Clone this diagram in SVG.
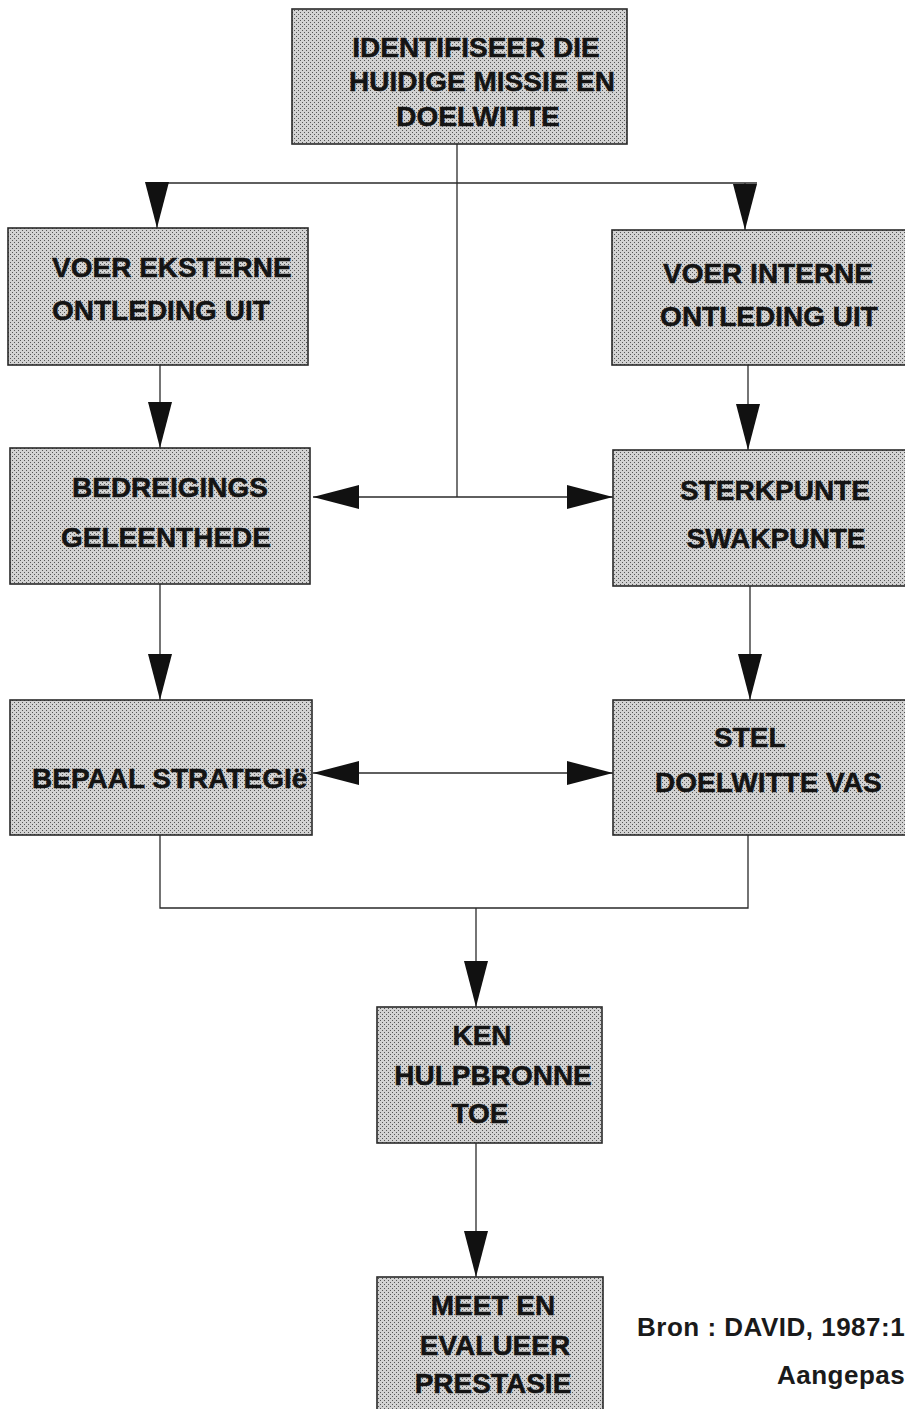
<svg xmlns="http://www.w3.org/2000/svg" width="905" height="1409" viewBox="0 0 905 1409">
  <style>
    .box { fill: url(#dots); stroke: #2a2a2a; stroke-width: 1.6; }
    .lbl { font-family: "Liberation Sans", Arial, sans-serif; font-weight: bold; font-size: 28px; fill: #141414; stroke: #141414; stroke-width: 0.5; }
    .mid { text-anchor: middle; }
    .link { fill: none; stroke: #2a2a2a; stroke-width: 1.3; }
    .arrow { marker-end: url(#ah); }
    .both { marker-start: url(#ah); marker-end: url(#ah); }
    .note { font-family: "Liberation Sans", Arial, sans-serif; font-weight: bold; font-size: 26px; fill: #1a1a1a; letter-spacing: 0.5px; }
  </style>
  <defs>
    <!-- halftone grey screen used as box fill -->
    <pattern id="dots" width="4" height="4" patternUnits="userSpaceOnUse">
      <rect width="4" height="4" fill="#d2d2d2"/>
      <rect x="0" y="0" width="1" height="1" fill="#555"/>
      <rect x="2" y="2" width="1" height="1" fill="#555"/>
    </pattern>
    <!-- long solid arrowhead -->
    <marker id="ah" viewBox="0 0 46 24" refX="46" refY="12" markerWidth="46" markerHeight="24" markerUnits="userSpaceOnUse" orient="auto-start-reverse">
      <path d="M0,0 L46,12 L0,24 Z" fill="#111"/>
    </marker>
  </defs>

  <rect width="905" height="1409" fill="#ffffff"/>

  <g id="connectors">
    <path class="link" d="M457,144 V497"/>
    <path class="link" d="M146,183 H757"/>
    <path class="link arrow" d="M157,183 V228"/>
    <path class="link arrow" d="M745,183 V230"/>
    <path class="link arrow" d="M160,365 V448"/>
    <path class="link arrow" d="M748,365 V450"/>
    <path class="link both" d="M313,497 H613"/>
    <path class="link arrow" d="M160,584 V700"/>
    <path class="link arrow" d="M750,586 V700"/>
    <path class="link both" d="M313,773 H613"/>
    <path class="link" d="M160,835 V908 H748 V835"/>
    <path class="link arrow" d="M476,908 V1007"/>
    <path class="link arrow" d="M476,1143 V1277"/>
  </g>

  <g id="n-missie">
    <rect class="box" x="292" y="9" width="335" height="135"/>
    <text class="lbl mid" x="476" y="57">IDENTIFISEER DIE</text>
    <text class="lbl mid" x="482" y="91">HUIDIGE MISSIE EN</text>
    <text class="lbl mid" x="478" y="126">DOELWITTE</text>
  </g>

  <g id="n-ekstern">
    <rect class="box" x="8" y="228" width="300" height="137"/>
    <text class="lbl" x="52" y="277">VOER EKSTERNE</text>
    <text class="lbl" x="52" y="320">ONTLEDING UIT</text>
  </g>

  <g id="n-intern">
    <rect class="box" x="612" y="230" width="300" height="135"/>
    <text class="lbl mid" x="768" y="283">VOER INTERNE</text>
    <text class="lbl mid" x="769" y="326">ONTLEDING UIT</text>
  </g>

  <g id="n-bedreigings">
    <rect class="box" x="10" y="448" width="300" height="136"/>
    <text class="lbl mid" x="170" y="497">BEDREIGINGS</text>
    <text class="lbl mid" x="166" y="547">GELEENTHEDE</text>
  </g>

  <g id="n-sterkpunte">
    <rect class="box" x="613" y="450" width="300" height="136"/>
    <text class="lbl mid" x="775" y="500">STERKPUNTE</text>
    <text class="lbl mid" x="776" y="548">SWAKPUNTE</text>
  </g>

  <g id="n-strategie">
    <rect class="box" x="10" y="700" width="302" height="135"/>
    <text class="lbl" x="32" y="788">BEPAAL STRATEGIë</text>
  </g>

  <g id="n-doelwitte">
    <rect class="box" x="613" y="700" width="300" height="135"/>
    <text class="lbl" x="714" y="747">STEL</text>
    <text class="lbl" x="655" y="792">DOELWITTE VAS</text>
  </g>

  <g id="n-hulpbronne">
    <rect class="box" x="377" y="1007" width="225" height="136"/>
    <text class="lbl mid" x="482" y="1045">KEN</text>
    <text class="lbl mid" x="493" y="1085">HULPBRONNE</text>
    <text class="lbl mid" x="480" y="1123">TOE</text>
  </g>

  <g id="n-prestasie">
    <rect class="box" x="377" y="1277" width="226" height="145"/>
    <text class="lbl mid" x="493" y="1315">MEET EN</text>
    <text class="lbl mid" x="495" y="1355">EVALUEER</text>
    <text class="lbl mid" x="493" y="1393">PRESTASIE</text>
  </g>

  <g id="source-note">
    <text class="note" x="637" y="1336">Bron : DAVID, 1987:1</text>
    <text class="note" x="777" y="1384">Aangepas</text>
  </g>
</svg>
